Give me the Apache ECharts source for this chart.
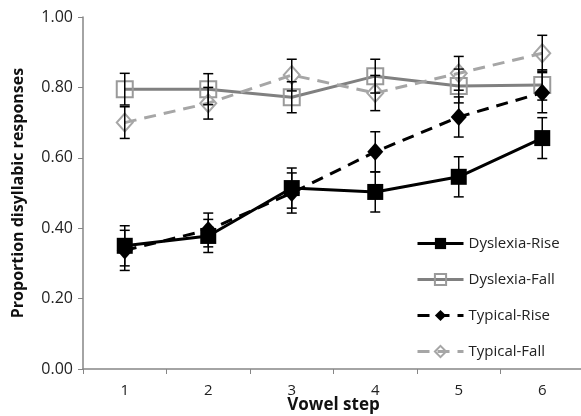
<!DOCTYPE html>
<html><head><meta charset="utf-8">
<script src="https://cdn.jsdelivr.net/npm/echarts@6/dist/echarts.min.js"></script>
<style>html,body{margin:0;padding:0;background:#fff}#c{width:581px;height:416px}</style>
</head><body><div id="c"></div>
<script>
const categories = ['1','2','3','4','5','6'];
const dysRise = [0.350, 0.378, 0.514, 0.503, 0.546, 0.656];
const dysRiseErr = [0.057, 0.047, 0.057, 0.057, 0.057, 0.058];
const dysFall = [0.795, 0.795, 0.772, 0.832, 0.804, 0.807];
const dysFallErr = [0.045, 0.044, 0.044, 0.048, 0.048, 0.043];
const typRise = [0.337, 0.395, 0.500, 0.617, 0.716, 0.785];
const typRiseErr = [0.057, 0.048, 0.057, 0.057, 0.057, 0.057];
const typFall = [0.700, 0.755, 0.835, 0.784, 0.840, 0.897];
const typFallErr = [0.045, 0.045, 0.045, 0.050, 0.048, 0.051];
const yTicks = [0, 0.2, 0.4, 0.6, 0.8, 1.0];

const FONT = 'Open Sans';
function errData(vals, errs){ return vals.map((v,i)=>[i, v-errs[i], v+errs[i]]); }
function errSeries(vals, errs){
  return {
    type:'custom', z:10, silent:true,
    data: errData(vals, errs),
    renderItem:(params, api)=>{
      const x = api.value(0);
      const top = api.coord([x, api.value(2)]);
      const bot = api.coord([x, api.value(1)]);
      const w = 5;
      const st = {stroke:'#000', lineWidth:1.5};
      return {type:'group', children:[
        {type:'line', shape:{x1:top[0],y1:top[1],x2:bot[0],y2:bot[1]}, style:st},
        {type:'line', shape:{x1:top[0]-w,y1:top[1],x2:top[0]+w,y2:top[1]}, style:st},
        {type:'line', shape:{x1:bot[0]-w,y1:bot[1],x2:bot[0]+w,y2:bot[1]}, style:st}
      ]};
    }
  };
}
const chart = echarts.init(document.getElementById('c'));
chart.setOption({
  animation:false,
  backgroundColor:'#fff',
  grid:{left:83, right:-3, top:17, bottom:47, outerBoundsMode:'none', containLabel:false},
  legend:{
    data:['Dyslexia-Rise','Dyslexia-Fall','Typical-Rise','Typical-Fall'],
    orient:'vertical', left:416, top:236, padding:0, itemWidth:46, itemHeight:14, itemGap:21,
    lineStyle:{width:3},
    textStyle:{fontFamily:FONT, fontSize:15, color:'#222'}
  },
  xAxis:{
    type:'category', data:categories, boundaryGap:true,
    axisLine:{lineStyle:{color:'#868686', width:1.5}},
    axisTick:{show:true, alignWithLabel:false, length:5, lineStyle:{color:'#868686'}},
    axisLabel:{fontFamily:FONT, fontSize:15, color:'#222', margin:14},
    name:'Vowel step', nameLocation:'middle', nameGap:28, nameMoveOverlap:false,
    nameTextStyle:{fontFamily:FONT, fontSize:17, fontWeight:'bold', color:'#111'}
  },
  yAxis:{
    type:'value', min:yTicks[0], max:yTicks[yTicks.length-1], interval:0.2,
    axisLine:{show:true, lineStyle:{color:'#868686', width:1.5}},
    axisTick:{show:true, length:5, lineStyle:{color:'#868686'}},
    splitLine:{show:false},
    axisLabel:{fontFamily:FONT, fontSize:16, color:'#222', margin:10, formatter:v=>v.toFixed(2)},
    name:'Proportion disyllabic responses', nameLocation:'middle', nameGap:57, nameMoveOverlap:false,
    nameTextStyle:{fontFamily:FONT, fontSize:16, fontWeight:'bold', color:'#111'}
  },
  series:[
    {name:'Dyslexia-Fall', type:'line', data:dysFall, symbol:'rect', symbolSize:16, z:3,
     lineStyle:{color:'#808080', width:3}, itemStyle:{color:'rgba(255,255,255,0)', borderColor:'#9a9a9a', borderWidth:2}},
    {name:'Typical-Fall', type:'line', data:typFall, symbol:'diamond', symbolSize:[16,18], z:3,
     lineStyle:{color:'#a6a6a6', width:3, type:[12,8]}, itemStyle:{color:'rgba(255,255,255,0)', borderColor:'#a6a6a6', borderWidth:2}},
    {name:'Typical-Rise', type:'line', data:typRise, symbol:'diamond', symbolSize:[16,18], z:4,
     lineStyle:{color:'#000', width:3, type:[12,8]}, itemStyle:{color:'#000', borderWidth:0}},
    {name:'Dyslexia-Rise', type:'line', data:dysRise, symbol:'rect', symbolSize:16, z:4,
     lineStyle:{color:'#000', width:3}, itemStyle:{color:'#000', borderWidth:0}},
    errSeries(dysFall, dysFallErr),
    errSeries(typFall, typFallErr),
    errSeries(typRise, typRiseErr),
    errSeries(dysRise, dysRiseErr)
  ]
});
</script></body></html>
